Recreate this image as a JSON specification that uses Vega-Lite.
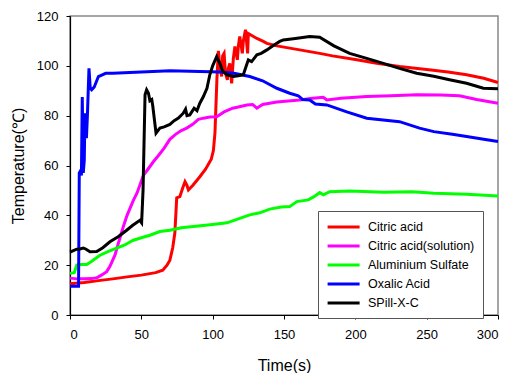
{
  "$schema": "https://vega.github.io/schema/vega-lite/v6.json",
  "width": 428,
  "height": 299,
  "autosize": {"type": "none"},
  "padding": {"left": 70, "top": 16, "right": 12, "bottom": 58},
  "background": "white",
  "config": {
    "font": "Liberation Sans",
    "view": {"stroke": "#888888", "strokeWidth": 1.5},
    "axis": {"grid": false, "domainColor": "black", "tickColor": "black", "labelColor": "black", "titleColor": "black", "labelFont": "Liberation Sans", "titleFont": "Liberation Sans", "labelFontSize": 13, "titleFontSize": 16, "titleFontWeight": "normal", "tickSize": 4, "domainWidth": 1.2}
  },
  "datasets": {
    "citric": [
      {"t":0,"v":12.5},{"t":10,"v":13},{"t":20,"v":13.8},{"t":30,"v":14.5},{"t":40,"v":15.3},{"t":50,"v":16},{"t":60,"v":17},{"t":65,"v":18},{"t":68,"v":20},{"t":70,"v":22},{"t":72,"v":27},{"t":73.5,"v":33},{"t":74.8,"v":47},{"t":77,"v":47.5},{"t":79,"v":51},{"t":80.6,"v":53.5},{"t":82,"v":52},{"t":83,"v":50.2},{"t":86,"v":52},{"t":91,"v":55.5},{"t":95,"v":58.5},{"t":99,"v":62.5},{"t":100.5,"v":66},{"t":101.6,"v":73},{"t":103,"v":95},{"t":104,"v":106},{"t":105,"v":100},{"t":106.3,"v":95.7},{"t":107,"v":104},{"t":108,"v":105},{"t":109,"v":97},{"t":110.3,"v":94.4},{"t":111,"v":99},{"t":112,"v":101},{"t":113.3,"v":93},{"t":114.5,"v":103},{"t":115.6,"v":107.8},{"t":117.3,"v":102.4},{"t":118,"v":108},{"t":119,"v":111.8},{"t":120.8,"v":105},{"t":121.5,"v":110},{"t":123,"v":114.5},{"t":124.5,"v":105},{"t":125,"v":113},{"t":128,"v":112},{"t":131,"v":111},{"t":135.5,"v":109.8},{"t":138,"v":109},{"t":145,"v":108},{"t":160,"v":106.5},{"t":175,"v":105},{"t":184,"v":104},{"t":200,"v":102.5},{"t":215,"v":101},{"t":231,"v":99.7},{"t":250,"v":98.5},{"t":265,"v":97.5},{"t":278,"v":96.4},{"t":290,"v":95},{"t":300,"v":93.3}
    ],
    "solution": [
      {"t":0,"v":14.8},{"t":5,"v":14.5},{"t":10,"v":14.5},{"t":15,"v":14.6},{"t":19,"v":15},{"t":22,"v":16},{"t":25.7,"v":17.4},{"t":28,"v":19.5},{"t":31.5,"v":24},{"t":34,"v":29},{"t":37.4,"v":35.5},{"t":40,"v":40},{"t":44.4,"v":46},{"t":47,"v":49},{"t":51.4,"v":56},{"t":54,"v":58},{"t":58.4,"v":61.5},{"t":62,"v":64},{"t":66,"v":67},{"t":70,"v":70.5},{"t":74,"v":72.5},{"t":78,"v":74},{"t":81.8,"v":75},{"t":86,"v":76.5},{"t":90,"v":78.5},{"t":93.5,"v":79},{"t":98,"v":79.5},{"t":102.8,"v":79.6},{"t":108,"v":81.5},{"t":114,"v":83},{"t":118,"v":83.5},{"t":124,"v":84.3},{"t":128,"v":84.5},{"t":131,"v":83},{"t":135,"v":84.5},{"t":145,"v":85.5},{"t":155,"v":86},{"t":161,"v":86.3},{"t":170,"v":87},{"t":177.5,"v":87.4},{"t":180,"v":86.3},{"t":190,"v":87},{"t":208,"v":87.7},{"t":225,"v":88},{"t":243,"v":88.4},{"t":260,"v":88.3},{"t":273,"v":88},{"t":285,"v":86.5},{"t":300,"v":85}
    ],
    "alum": [
      {"t":0,"v":16.7},{"t":3,"v":17},{"t":4.7,"v":20},{"t":8,"v":20.3},{"t":11.7,"v":20.3},{"t":15,"v":21.5},{"t":21,"v":24},{"t":27,"v":25.5},{"t":32.7,"v":26.8},{"t":38,"v":28},{"t":44.4,"v":30},{"t":50,"v":31},{"t":56,"v":32},{"t":63,"v":33.5},{"t":70,"v":34},{"t":78,"v":35},{"t":86.4,"v":35.5},{"t":100,"v":36.3},{"t":110,"v":37},{"t":120,"v":39},{"t":126,"v":40.2},{"t":133,"v":41},{"t":140,"v":42.5},{"t":148,"v":43.3},{"t":154,"v":43.5},{"t":159,"v":45.5},{"t":167,"v":46.2},{"t":171,"v":47.5},{"t":175,"v":49.1},{"t":177.6,"v":48.2},{"t":182,"v":49.5},{"t":196,"v":49.8},{"t":220,"v":49.3},{"t":240,"v":49.5},{"t":255,"v":48.9},{"t":278,"v":48.5},{"t":300,"v":47.8}
    ],
    "oxalic": [
      {"t":0,"v":11.5},{"t":6,"v":11.5},{"t":6.5,"v":57},{"t":7.5,"v":58},{"t":8,"v":56},{"t":8.6,"v":87.5},{"t":9.3,"v":57},{"t":10,"v":62},{"t":10.5,"v":81},{"t":11.5,"v":71},{"t":12.2,"v":80},{"t":13.3,"v":99},{"t":14.2,"v":91},{"t":15.2,"v":90.4},{"t":17,"v":91.5},{"t":19.9,"v":95.7},{"t":25,"v":97},{"t":30,"v":97},{"t":50,"v":97.5},{"t":70,"v":98},{"t":91,"v":97.7},{"t":105,"v":97.5},{"t":115,"v":97},{"t":126,"v":95.7},{"t":135,"v":94},{"t":145,"v":91},{"t":154,"v":89},{"t":160,"v":88},{"t":163,"v":86.5},{"t":168,"v":86.3},{"t":172,"v":84.7},{"t":180,"v":84.3},{"t":194,"v":81.5},{"t":208,"v":79},{"t":231,"v":77.6},{"t":245,"v":75},{"t":255,"v":73.6},{"t":268,"v":72.5},{"t":278,"v":71.6},{"t":290,"v":70.5},{"t":300,"v":69.6}
    ],
    "spill": [
      {"t":0,"v":25.2},{"t":4.7,"v":26.4},{"t":7,"v":26.5},{"t":9.3,"v":26.9},{"t":11,"v":26.5},{"t":14,"v":25.4},{"t":18.7,"v":25.5},{"t":23,"v":27},{"t":28,"v":29.4},{"t":34,"v":31.5},{"t":39.7,"v":34},{"t":44,"v":36},{"t":49,"v":38},{"t":50.2,"v":37},{"t":51.2,"v":50},{"t":52.6,"v":88.4},{"t":53.7,"v":90.4},{"t":55,"v":89},{"t":56,"v":86},{"t":57.3,"v":86.5},{"t":58,"v":84},{"t":60.3,"v":73},{"t":63,"v":75},{"t":66,"v":75.5},{"t":70,"v":76.5},{"t":73,"v":78},{"t":76,"v":79},{"t":79.4,"v":81},{"t":81,"v":82.6},{"t":82,"v":80},{"t":84,"v":80.3},{"t":87,"v":83},{"t":89,"v":82},{"t":91,"v":85},{"t":93.5,"v":87.7},{"t":96,"v":91},{"t":98,"v":96.4},{"t":100,"v":100},{"t":102.8,"v":103.7},{"t":105,"v":101},{"t":107,"v":98},{"t":110,"v":96.4},{"t":114.5,"v":95.7},{"t":118,"v":96},{"t":121.5,"v":96.4},{"t":123,"v":99},{"t":125,"v":102.4},{"t":127.3,"v":101.7},{"t":131,"v":104.4},{"t":134,"v":105},{"t":138,"v":106.4},{"t":142,"v":108},{"t":147,"v":109.8},{"t":149.5,"v":110.4},{"t":158,"v":111},{"t":168,"v":111.8},{"t":175,"v":111.5},{"t":185,"v":108},{"t":196,"v":105},{"t":208,"v":103},{"t":219.6,"v":101},{"t":231,"v":99},{"t":243,"v":97},{"t":255,"v":95.8},{"t":266,"v":94.4},{"t":278,"v":93},{"t":289.7,"v":91},{"t":300,"v":90.8}
    ]
  },
  "encoding": {
    "x": {"field": "t", "type": "quantitative", "scale": {"domain": [0, 300], "nice": false, "zero": false}, "axis": {"values": [0,50,100,150,200,250,300], "title": "Time(s)", "labelPadding": 9, "titlePadding": 16}},
    "y": {"field": "v", "type": "quantitative", "scale": {"domain": [0, 120], "nice": false}, "axis": {"values": [0,20,40,60,80,100,120], "title": "Temperature(℃)", "labelPadding": 8, "titlePadding": 10}},
    "color": {"field": "s", "type": "nominal", "sort": null,
      "scale": {"domain": ["Citric acid", "Citric acid(solution)", "\u00a0Aluminium Sulfate", "Oxalic Acid", "SPill-X-C"], "range": ["#ff0000", "#ff00ff", "#00ff00", "#0000ff", "#000000"]},
      "legend": {"title": null, "orient": "none", "legendX": 248, "legendY": 195, "padding": 8, "strokeColor": "#555555", "fillColor": "white", "labelFontSize": 12.5, "labelFont": "Liberation Sans", "labelColor": "black", "symbolType": "M-1,0H4", "symbolSize": 164, "symbolStrokeWidth": 3, "labelOffset": 26, "rowPadding": 4}}
  },
  "layer": [
    {"data": {"name": "citric"}, "transform": [{"calculate": "'Citric acid'", "as": "s"}], "mark": {"type": "line", "strokeWidth": 3}},
    {"data": {"name": "solution"}, "transform": [{"calculate": "'Citric acid(solution)'", "as": "s"}], "mark": {"type": "line", "strokeWidth": 3}},
    {"data": {"name": "alum"}, "transform": [{"calculate": "'\u00a0Aluminium Sulfate'", "as": "s"}], "mark": {"type": "line", "strokeWidth": 3}},
    {"data": {"name": "oxalic"}, "transform": [{"calculate": "'Oxalic Acid'", "as": "s"}], "mark": {"type": "line", "strokeWidth": 3}},
    {"data": {"name": "spill"}, "transform": [{"calculate": "'SPill-X-C'", "as": "s"}], "mark": {"type": "line", "strokeWidth": 3}}
  ]
}
